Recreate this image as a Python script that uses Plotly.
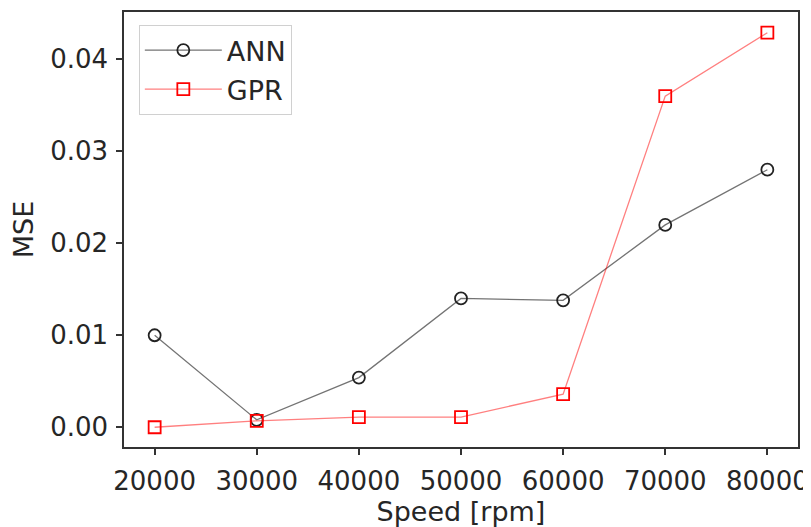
import plotly.graph_objects as go

speed = [20000, 30000, 40000, 50000, 60000, 70000, 80000]
ann_mse = [0.0100, 0.0008, 0.0054, 0.0140, 0.0138, 0.0220, 0.0280]
gpr_mse = [0.0000, 0.0007, 0.0011, 0.0011, 0.0036, 0.0360, 0.0429]
x_ticks = [20000, 30000, 40000, 50000, 60000, 70000, 80000]
y_ticks = [0.00, 0.01, 0.02, 0.03, 0.04]

FONT = "DejaVu Sans"

fig = go.Figure()
fig.add_trace(go.Scatter(
    x=speed, y=ann_mse, name="ANN", mode="lines+markers", legendgroup="a",
    line=dict(color="rgba(0,0,0,0.55)", width=1.3),
    marker=dict(symbol="circle-open", size=12, color="#222222", line=dict(width=1.8)),
))
fig.add_trace(go.Scatter(
    x=speed, y=gpr_mse, name="GPR", mode="lines+markers", legendgroup="b",
    line=dict(color="rgba(255,0,0,0.5)", width=1.3),
    marker=dict(symbol="square-open", size=12, color="#ff0000", line=dict(width=1.8)),
))

# page body has an 8px margin; size the figure so the plot frame lands where the reference's does
fig.update_layout(
    width=803, height=519,
    margin=dict(l=116, r=13, t=2, b=80),
    paper_bgcolor="white", plot_bgcolor="white",
    font=dict(family=FONT, size=23, color="#262626"),
    showlegend=True,
    legend=dict(
        x=0.022, y=0.97, xanchor="left", yanchor="top",
        bgcolor="rgba(255,255,255,0.8)", bordercolor="#d0d0d0", borderwidth=1,
        font=dict(size=27), itemwidth=77, tracegroupgap=1,
        entrywidth=78, entrywidthmode="pixels",
    ),
    xaxis=dict(
        range=[17000, 83000], tickvals=x_ticks, ticktext=[str(v) for v in x_ticks],
        showgrid=False, zeroline=False, showline=True, linecolor="#333333", linewidth=1.5,
        mirror=True, ticks="outside", ticklen=6, tickwidth=1.5, tickcolor="#333333",
        ticklabelstandoff=4, tickfont=dict(size=26),
        title=dict(text="Speed [rpm]", standoff=6, font=dict(size=27)),
    ),
    yaxis=dict(
        range=[-0.00215, 0.04515], tickvals=y_ticks, ticktext=[f"{v:.2f}" for v in y_ticks],
        showgrid=False, zeroline=False, showline=True, linecolor="#333333", linewidth=1.5,
        mirror=True, ticks="outside", ticklen=6, tickwidth=1.5, tickcolor="#333333",
        ticklabelstandoff=3, tickfont=dict(size=26),
        title=dict(text="MSE", standoff=14, font=dict(size=27)),
    ),
)

fig.write_html("out.html")
